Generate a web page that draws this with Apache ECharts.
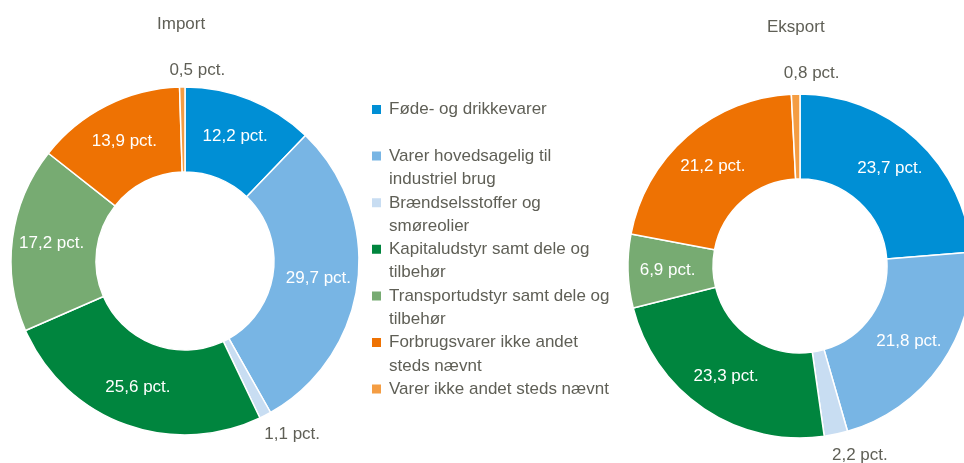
<!DOCTYPE html>
<html>
<head>
<meta charset="utf-8">
<script src="https://cdn.jsdelivr.net/npm/echarts@6/dist/echarts.min.js"></script>
<style>
  html, body { margin: 0; padding: 0; background: #fff; }
  #chart { width: 964px; height: 463px; }
</style>
</head>
<body>
<div id="chart"></div>
<script>
// kategorier (legend)
var categories = [
	'Føde- og drikkevarer',
	'Varer hovedsagelig til industriel brug',
	'Brændselsstoffer og smøreolier',
	'Kapitaludstyr samt dele og tilbehør',
	'Transportudstyr samt dele og tilbehør',
	'Forbrugsvarer ikke andet steds nævnt',
	'Varer ikke andet steds nævnt'
];
// legend-tekst med linjeskift som i originalen
var legendLines = [
	'Føde- og drikkevarer\n ',
	'Varer hovedsagelig til\nindustriel brug',
	'Brændselsstoffer og\nsmøreolier',
	'Kapitaludstyr samt dele og\ntilbehør',
	'Transportudstyr samt dele og\ntilbehør',
	'Forbrugsvarer ikke andet\nsteds nævnt',
	'Varer ikke andet steds nævnt\n '
];
var importValues = [12.2, 29.7, 1.1, 25.6, 17.2, 13.9, 0.5];
var eksportValues = [23.7, 21.8, 2.2, 23.3, 6.9, 21.2, 0.8];

var colors = ['#008fd5', '#78b5e4', '#c8ddf2', '#00853e', '#77ab72', '#ee7203', '#f49d43'];
var textColor = '#5f5f56';
var fontFamily = '"Liberation Sans", Arial, sans-serif';

// små andele vises udenfor ringen
function buildData(values) {
	return values.map(function (v, i) {
		var item = { name: categories[i], value: v };
		if (v < 3) {
			item.label = { position: 'outside', color: textColor };
		}
		return item;
	});
}

// finjustering af de ydre labels
var outsideShift = [
	{ 2: { dx: -6, dy: 19 }, 6: { align: 'center', dx: 20, dy: -17 } },
	{ 2: { dx: -9, dy: 21 }, 6: { align: 'center', dx: 21, dy: -21 } }
];

function pctLabel(p) {
	return p.value.toFixed(1).replace('.', ',') + ' pct.';
}

var chart = echarts.init(document.getElementById('chart'));

var option = {
	animation : false,
	color : colors,
	textStyle : { fontFamily : fontFamily },
	title : [ {
		text : 'Import',
		left : 157,
		top : 16,
		padding : 0,
		textStyle : { color : textColor, fontSize : 17, fontWeight : 'normal', fontFamily : fontFamily }
	}, {
		text : 'Eksport',
		left : 767,
		top : 19,
		padding : 0,
		textStyle : { color : textColor, fontSize : 17, fontWeight : 'normal', fontFamily : fontFamily }
	} ],
	legend : {
		orient : 'vertical',
		left : 372,
		top : 98,
		padding : 0,
		itemGap : 0,
		itemWidth : 12,
		itemHeight : 46.6,
		icon : 'path://M0,0L0.01,0M0,7L9,7L9,16L0,16ZM12,46.6L11.99,46.6',
		itemStyle : { borderWidth : 0 },
		selectedMode : false,
		data : categories,
		formatter : function (name) {
			return legendLines[categories.indexOf(name)];
		},
		textStyle : {
			color : textColor,
			fontSize : 17,
			lineHeight : 23.3,
			fontFamily : fontFamily
		}
	},
	series : [ {
		name : 'Import',
		type : 'pie',
		center : [ 185, 261 ],
		radius : [ 89, 174 ],
		startAngle : 90,
		avoidLabelOverlap : false,
		itemStyle : { borderColor : '#fff', borderWidth : 1.5 },
		label : {
			position : 'inside',
			formatter : pctLabel,
			color : '#fff',
			fontSize : 17,
			fontFamily : fontFamily
		},
		labelLine : { show : false, length : 0, length2 : 0 },
		labelLayout : function (p) {
			return outsideShift[0][p.dataIndex] || {};
		},
		emphasis : { disabled : true },
		data : buildData(importValues)
	}, {
		name : 'Eksport',
		type : 'pie',
		center : [ 800, 266 ],
		radius : [ 87, 172 ],
		startAngle : 90,
		avoidLabelOverlap : false,
		itemStyle : { borderColor : '#fff', borderWidth : 1.5 },
		label : {
			position : 'inside',
			formatter : pctLabel,
			color : '#fff',
			fontSize : 17,
			fontFamily : fontFamily
		},
		labelLine : { show : false, length : 0, length2 : 0 },
		labelLayout : function (p) {
			return outsideShift[1][p.dataIndex] || {};
		},
		emphasis : { disabled : true },
		data : buildData(eksportValues)
	} ]
};

chart.setOption(option);
</script>
</body>
</html>
